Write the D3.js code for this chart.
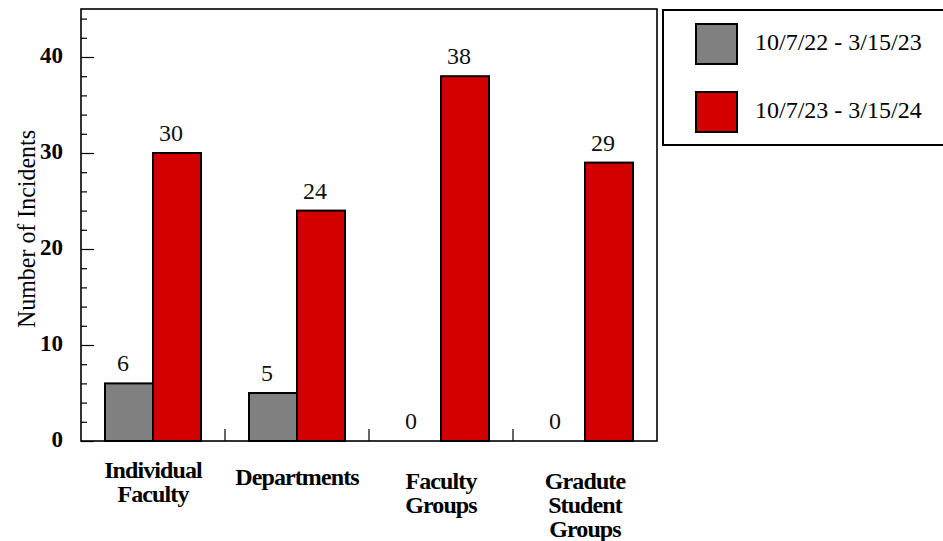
<!DOCTYPE html>
<html>
<head>
<meta charset="utf-8">
<script src="https://cdn.jsdelivr.net/npm/d3@7"></script>
<style>
  body { margin: 0; background: #fff; }
</style>
</head>
<body>
<div id="chart"></div>
<script>
const width = 943;
const height = 541;
const serif = "'Liberation Serif', 'Times New Roman', Times, 'DejaVu Serif', serif";

// data
const categories = ["Individual Faculty", "Departments", "Faculty Groups", "Gradute Student Groups"];
const seriesNames = ["10/7/22 - 3/15/23", "10/7/23 - 3/15/24"];
const values2223 = [6, 5, 0, 0];
const values2324 = [30, 24, 38, 29];
const yTicks = [0, 10, 20, 30, 40];
const colors = ["#808080", "#d40000"];

// label first-line baselines (layout)
const labelY = [478, 485, 489, 489];

var svg = d3.select("#chart").append("svg").attr("width", width).attr("height", height)
  .style("font-family", serif);

var plotL = 81, plotR = 657, plotT = 9, plotB = 441;

var x = d3.scaleBand().domain(categories).range([plotL, plotR]).padding(0);
var x1 = d3.scaleBand().domain(seriesNames).range([24, x.bandwidth() - 24]).padding(0);
var y = d3.scaleLinear().domain([0, 45]).range([plotB, plotT]);

var rows = categories.map(function(c, i) {
  return { cat: c, vals: [
    { s: seriesNames[0], v: values2223[i], col: colors[0] },
    { s: seriesNames[1], v: values2324[i], col: colors[1] }
  ]};
});

// minor ticks
var minor = d3.range(0, 46, 2).filter(function(d){ return d % 10 !== 0; });
svg.append("g").attr("transform", "translate(" + plotL + ",0)")
  .call(d3.axisLeft(y).tickValues(minor).tickSize(-6).tickFormat(""))
  .call(function(g){ g.select(".domain").remove(); g.selectAll("line").attr("stroke", "#000").attr("stroke-width", 1.2); });

// major ticks + labels
svg.append("g").attr("transform", "translate(" + plotL + ",0)")
  .call(d3.axisLeft(y).tickValues(yTicks).tickSize(-13).tickPadding(18).tickFormat(d3.format("d")))
  .call(function(g){
    g.attr("font-family", serif);
    g.select(".domain").remove();
    g.selectAll("line").attr("stroke", "#000").attr("stroke-width", 1.2);
    g.selectAll("text").attr("font-size", 23).attr("font-weight", "bold").attr("fill", "#000")
      .attr("font-family", serif).attr("dy", "0.25em");
  });

// x boundary ticks
svg.append("g").selectAll("line").data(categories.slice(1)).enter().append("line")
  .attr("x1", function(d){ return x(d); }).attr("x2", function(d){ return x(d); })
  .attr("y1", plotB).attr("y2", plotB - 12)
  .attr("stroke", "#000").attr("stroke-width", 1.2);

// bars
var group = svg.selectAll("g.cat").data(rows).enter().append("g").attr("class", "cat")
  .attr("transform", function(d){ return "translate(" + x(d.cat) + ",0)"; });

group.selectAll("rect").data(function(d){ return d.vals.filter(function(v){ return v.v > 0; }); })
  .enter().append("rect")
  .attr("x", function(d){ return x1(d.s); })
  .attr("y", function(d){ return y(d.v); })
  .attr("width", x1.bandwidth())
  .attr("height", function(d){ return plotB - y(d.v); })
  .attr("fill", function(d){ return d.col; })
  .attr("stroke", "#000").attr("stroke-width", 2);

group.selectAll("text.val").data(function(d){ return d.vals; })
  .enter().append("text").attr("class", "val")
  .attr("x", function(d){ return x1(d.s) + x1.bandwidth() / 2 - 6; })
  .attr("y", function(d){ return y(d.v) - 12; })
  .attr("text-anchor", "middle").attr("font-size", 24).attr("fill", "#111")
  .attr("font-family", serif)
  .text(function(d){ return d.v; });

// frame
svg.append("rect").attr("x", plotL).attr("y", plotT).attr("width", plotR - plotL).attr("height", plotB - plotT)
  .attr("fill", "none").attr("stroke", "#000").attr("stroke-width", 1.6);

// category labels
svg.selectAll("text.cat").data(categories).enter().append("text").attr("class", "cat")
  .attr("x", function(d){ return x(d) + x.bandwidth() / 2; })
  .attr("y", function(d, i){ return labelY[i]; })
  .attr("text-anchor", "middle").attr("font-size", 24).attr("font-weight", "bold")
  .attr("font-family", serif).attr("letter-spacing", "-0.9px")
  .each(function(d){
    var t = d3.select(this);
    d.split(" ").forEach(function(w, j){
      t.append("tspan").attr("x", t.attr("x")).attr("dy", j === 0 ? 0 : 24).text(w);
    });
  });

// y title
svg.append("text")
  .attr("transform", "translate(35," + ((plotT + plotB) / 2 + 4) + ") rotate(-90)")
  .attr("text-anchor", "middle").attr("font-size", 25)
  .attr("textLength", 198).attr("lengthAdjust", "spacingAndGlyphs")
  .attr("font-family", serif)
  .text("Number of Incidents");

// legend
var legend = svg.append("g");
legend.append("rect").attr("x", 663).attr("y", 10).attr("width", 290).attr("height", 135)
  .attr("fill", "#fff").attr("stroke", "#000").attr("stroke-width", 2);
var li = legend.selectAll("g.item").data(seriesNames).enter().append("g").attr("class", "item")
  .attr("transform", function(d, i){ return "translate(0," + (i * 68) + ")"; });
li.append("rect").attr("x", 696).attr("y", 24).attr("width", 41).attr("height", 40)
  .attr("fill", function(d, i){ return colors[i]; }).attr("stroke", "#000").attr("stroke-width", 2);
li.append("text").attr("x", 755).attr("y", 50).attr("font-size", 24).attr("fill", "#000")
  .attr("font-family", serif)
  .text(function(d){ return d; });
</script>
</body>
</html>
